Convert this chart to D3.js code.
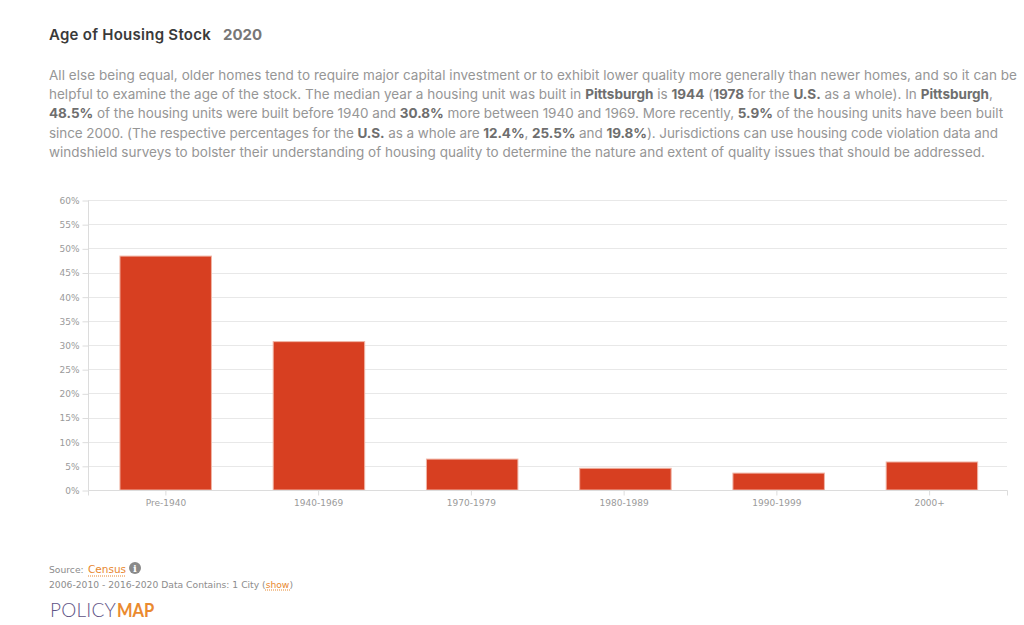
<!DOCTYPE html>
<html>
<head>
<meta charset="utf-8">
<script src="https://cdn.jsdelivr.net/npm/d3@7"></script>
<style>
  body { margin: 0; background: #fff; }
  svg { display: block; }
  .intro { font-family: "Inter", sans-serif; font-size: 13.5px; fill: #969696; }
  .intro .b { font-weight: 700; fill: #6e6e6e; }
  .axis text { font-family: "DejaVu Sans", sans-serif; font-size: 9px; fill: #9a9a9a; }
  .axis line, .axis path { stroke: #dcdcdc; }
  .grid line { stroke: #e8e8e8; }
  .foot { font-family: "DejaVu Sans", sans-serif; font-size: 9.2px; fill: #8c8c8c; }
  .link { fill: #e8872e; }
</style>
</head>
<body>
<svg id="chart" width="1024" height="625"></svg>
<script>
// chart values
const categories = ["Pre-1940", "1940-1969", "1970-1979", "1980-1989", "1990-1999", "2000+"];
const values = [48.5, 30.8, 6.5, 4.6, 3.6, 5.9];
const yTicks = [0, 5, 10, 15, 20, 25, 30, 35, 40, 45, 50, 55, 60];

// intro paragraph, one entry per line, ** marks the bold parts
const introLines = [
  "All else being equal, older homes tend to require major capital investment or to exhibit lower quality more generally than newer homes, and so it can be",
  "helpful to examine the age of the stock. The median year a housing unit was built in **Pittsburgh** is **1944** (**1978** for the **U.S.** as a whole). In **Pittsburgh**,",
  "**48.5%** of the housing units were built before 1940 and **30.8%** more between 1940 and 1969. More recently, **5.9%** of the housing units have been built",
  "since 2000. (The respective percentages for the **U.S.** as a whole are **12.4%**, **25.5%** and **19.8%**). Jurisdictions can use housing code violation data and",
  "windshield surveys to bolster their understanding of housing quality to determine the nature and extent of quality issues that should be addressed."
];
const introWidths = [968, 944, 954, 949, 936];

const svg = d3.select("#chart");

// squeeze or stretch a text to a given width with letter spacing
function fitWidth(t, width) {
  const node = t.node();
  const spacing = (width - node.getComputedTextLength()) / node.textContent.length;
  t.style("letter-spacing", spacing + "px");
}

// title
const title = svg.append("text").attr("x", 49).attr("y", 39.5)
  .style("font-family", "Inter, sans-serif").style("font-size", "15px").style("font-weight", 600)
  .attr("fill", "#3a3a3a").text("Age of Housing Stock");
fitWidth(title, 162);
const year = svg.append("text").attr("x", 223).attr("y", 39.5)
  .style("font-family", "Inter, sans-serif").style("font-size", "15px").style("font-weight", 700)
  .attr("fill", "#777").text("2020");
fitWidth(year, 39);

// intro text
introLines.forEach((line, i) => {
  const t = svg.append("text").attr("class", "intro")
    .attr("x", 49).attr("y", 79.5 + i * 19.4);
  line.split("**").forEach((part, j) => {
    t.append("tspan").attr("class", j % 2 ? "b" : null).text(part);
  });
  fitWidth(t, introWidths[i]);
});

// chart
const x = d3.scaleBand().domain(categories).range([89.3, 1008.3]).paddingInner(0.403).paddingOuter(0.2);
const xTicks = d3.scaleBand().domain(categories).range([89.5, 1006]);
const y = d3.scaleLinear().domain([0, 60]).range([490.5, 200.5]);

const grid = svg.append("g").attr("class", "grid");
grid.selectAll("line").data(yTicks.filter(d => d > 0)).join("line")
  .attr("x1", 88).attr("x2", 1007)
  .attr("y1", d => Math.floor(y(d)) + 0.5).attr("y2", d => Math.floor(y(d)) + 0.5);

svg.selectAll("rect.bar").data(categories).join("rect")
  .attr("class", "bar")
  .attr("x", d => x(d))
  .attr("y", (d, i) => y(values[i]))
  .attr("width", x.bandwidth())
  .attr("height", (d, i) => y(0) - y(values[i]) - 0.5)
  .attr("fill", "#d73f21")
  .attr("stroke", "#f0b5a6")
  .attr("stroke-width", 1);

const yAxis = svg.append("g").attr("class", "axis").attr("transform", "translate(88.5,0)")
  .call(d3.axisLeft(y).tickValues(yTicks).tickFormat(d => d + "%").tickSize(6).tickPadding(3));
yAxis.select(".domain").attr("d", "M0," + y(60) + "V" + y(0));

const xAxis = svg.append("g").attr("class", "axis").attr("transform", "translate(0,490.5)")
  .call(d3.axisBottom(xTicks).tickSize(5).tickPadding(4));
xAxis.select(".domain").attr("d", "M88.5,5V0H1007.5V5");

// footer
const src = svg.append("text").attr("class", "foot").attr("x", 49).attr("y", 573);
src.append("tspan").text("Source: ");
src.append("tspan").attr("class", "link").style("font-size", "10.5px").attr("x", 88).text("Census");
svg.append("line").attr("x1", 88).attr("x2", 126).attr("y1", 576).attr("y2", 576)
  .attr("stroke", "#e8872e").attr("stroke-dasharray", "1 1");
svg.append("circle").attr("cx", 135).attr("cy", 568).attr("r", 6).attr("fill", "#8a8a8a");
svg.append("text").attr("x", 135).attr("y", 572).attr("text-anchor", "middle").attr("fill", "#fff")
  .style("font-family", "DejaVu Serif, serif").style("font-size", "10px").style("font-weight", 700).text("i");

const data2 = svg.append("text").attr("class", "foot").attr("x", 49).attr("y", 588);
data2.append("tspan").text("2006-2010 - 2016-2020 Data Contains: 1 City (");
data2.append("tspan").attr("class", "link").text("show");
data2.append("tspan").text(")");
svg.append("line").attr("x1", 265).attr("x2", 290).attr("y1", 590).attr("y2", 590)
  .attr("stroke", "#e8872e").attr("stroke-dasharray", "1 1");

// logo
const policy = svg.append("text").attr("x", 50).attr("y", 617)
  .style("font-family", "Lato, sans-serif").style("font-size", "19px").style("font-weight", 300)
  .attr("fill", "#5f5486").text("POLICY");
fitWidth(policy, 66);
svg.append("text").attr("transform", "translate(117,617) scale(0.87,1)")
  .style("font-family", "Lato, sans-serif").style("font-size", "19px").style("font-weight", 700)
  .attr("fill", "#ea8a2f").text("MAP");
</script>
</body>
</html>
